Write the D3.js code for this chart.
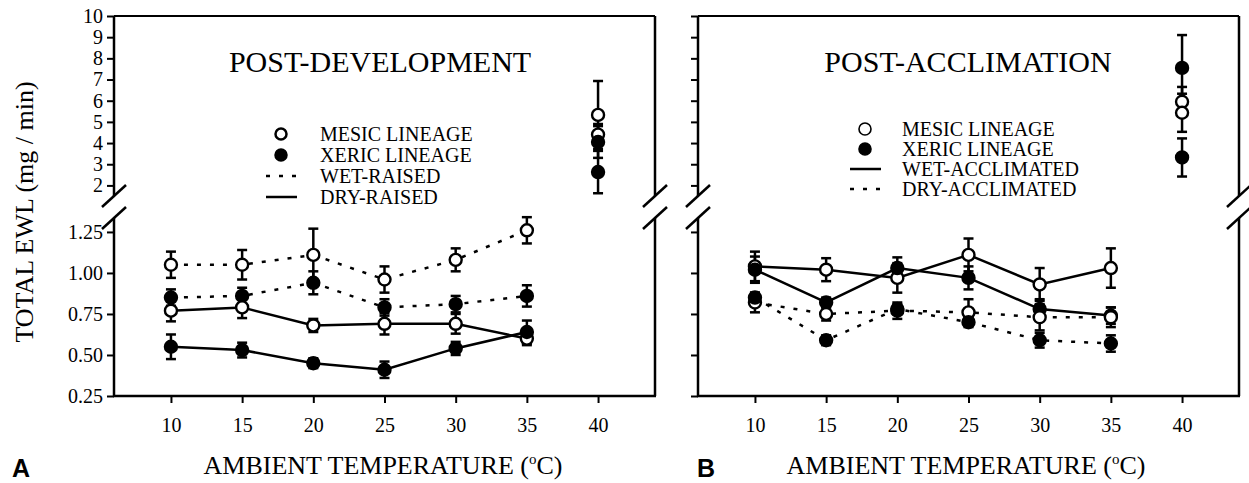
<!DOCTYPE html>
<html>
<head>
<meta charset="utf-8">
<script src="https://cdn.jsdelivr.net/npm/d3@7"></script>
<style>
  body { margin: 0; background: #fff; }
  text { font-family: "Liberation Serif", "Times New Roman", serif; fill: #000; }
</style>
</head>
<body>
<svg id="chart" width="1249" height="483"></svg>
<script>
// ---- data ----
const temps = [10, 15, 20, 25, 30, 35];
const tempTicks = [10, 15, 20, 25, 30, 35, 40];
const upperTicks = [2, 3, 4, 5, 6, 7, 8, 9, 10];
const lowerTicks = [0.25, 0.50, 0.75, 1.00, 1.25];

// A: post-development
const devMesicWet    = [1.05, 1.05, 1.11, 0.96, 1.08, 1.26];
const devMesicWetErr = [0.08, 0.09, 0.16, 0.08, 0.07, 0.08];
const devXericWet    = [0.85, 0.86, 0.94, 0.79, 0.81, 0.86];
const devXericWetErr = [0.05, 0.05, 0.07, 0.05, 0.05, 0.065];
const devMesicDry    = [0.77, 0.79, 0.68, 0.69, 0.69, 0.60];
const devMesicDryErr = [0.065, 0.065, 0.04, 0.065, 0.06, 0.04];
const devXericDry    = [0.55, 0.53, 0.45, 0.41, 0.54, 0.64];
const devXericDryErr = [0.075, 0.045, 0.03, 0.05, 0.04, 0.07];
const devHotMean     = [5.33, 4.40, 4.05, 2.63];
const devHotErr      = [1.60, 0.50, 0.75, 1.00];
const devHotOpen     = [true, true, false, false];

// B: post-acclimation
const accMesicWet    = [1.04, 1.02, 0.97, 1.11, 0.93, 1.03];
const accMesicWetErr = [0.09, 0.07, 0.09, 0.10, 0.10, 0.12];
const accXericWet    = [1.02, 0.82, 1.03, 0.97, 0.78, 0.74];
const accXericWetErr = [0.08, 0.03, 0.065, 0.07, 0.06, 0.05];
const accMesicDry    = [0.82, 0.75, 0.77, 0.76, 0.73, 0.73];
const accMesicDryErr = [0.06, 0.04, 0.05, 0.08, 0.08, 0.06];
const accXericDry    = [0.85, 0.59, 0.78, 0.70, 0.59, 0.57];
const accXericDryErr = [0.03, 0.03, 0.03, 0.03, 0.045, 0.05];
const accHotMean     = [5.95, 5.43, 7.55, 3.32];
const accHotErr      = [0.70, 0.90, 1.55, 0.90];
const accHotOpen     = [true, true, false, false];

const devLegend = ["MESIC LINEAGE", "XERIC LINEAGE", "WET-RAISED", "DRY-RAISED"];
const accLegend = ["MESIC LINEAGE", "XERIC LINEAGE", "WET-ACCLIMATED", "DRY-ACCLIMATED"];

// ---- layout ----
const svg = d3.select("#chart");
const plotTop = 16, breakTop = 196, breakBot = 218, plotBottom = 396;
const yTop = d3.scaleLinear([1.5, 10], [breakTop, plotTop]);
const yBot = d3.scaleLinear([0.25, 1.335], [plotBottom, breakBot]);
const dots = "4,9";
const sw = 2.5;

const panels = [
  {
    x0: 114, x1: 655, title: "POST-DEVELOPMENT", titleX: 380, labels: true,
    letter: "A", letterX: 12, xTitleX: 383,
    series: [
      { mean: devMesicWet, err: devMesicWetErr, open: true,  dotted: true },
      { mean: devXericWet, err: devXericWetErr, open: false, dotted: true },
      { mean: devMesicDry, err: devMesicDryErr, open: true,  dotted: false },
      { mean: devXericDry, err: devXericDryErr, open: false, dotted: false }
    ],
    hot: { mean: devHotMean, err: devHotErr, open: devHotOpen },
    legend: { names: devLegend, kinds: ["open", "filled", "dotted", "solid"],
              symX: 281, textX: 320, rows: [134, 155, 176, 197], r: 5.5, csw: 2.5 }
  },
  {
    x0: 698, x1: 1239, title: "POST-ACCLIMATION", titleX: 968, labels: false,
    letter: "B", letterX: 697, xTitleX: 966,
    series: [
      { mean: accMesicWet, err: accMesicWetErr, open: true,  dotted: false },
      { mean: accXericWet, err: accXericWetErr, open: false, dotted: false },
      { mean: accMesicDry, err: accMesicDryErr, open: true,  dotted: true },
      { mean: accXericDry, err: accXericDryErr, open: false, dotted: true }
    ],
    hot: { mean: accHotMean, err: accHotErr, open: accHotOpen },
    legend: { names: accLegend, kinds: ["open", "filled", "solid", "dotted"],
              symX: 865, textX: 902, rows: [129, 149, 169, 189], r: 6, csw: 1.6 }
  }
];

function errBar(g, cx, lo, hi) {
  g.append("line").attr("x1", cx).attr("x2", cx).attr("y1", lo).attr("y2", hi)
    .attr("stroke", "#000").attr("stroke-width", sw);
  [lo, hi].forEach(v => {
    g.append("line").attr("x1", cx - 5).attr("x2", cx + 5).attr("y1", v).attr("y2", v)
      .attr("stroke", "#000").attr("stroke-width", sw);
  });
}

function dot(g, cx, cy, open, r = 6, w = 2.4) {
  g.append("circle").attr("cx", cx).attr("cy", cy).attr("r", r)
    .attr("fill", open ? "#fff" : "#000")
    .attr("stroke", "#000").attr("stroke-width", w);
}

panels.forEach(p => {
  const x = d3.scaleLinear([6, 44], [p.x0, p.x1]);
  const g = svg.append("g");

  // frame: left axis, right border, top, bottom
  [p.x0, p.x1].forEach(ax => {
    g.append("line").attr("x1", ax).attr("x2", ax).attr("y1", plotTop).attr("y2", breakTop)
      .attr("stroke", "#000").attr("stroke-width", sw);
    g.append("line").attr("x1", ax).attr("x2", ax).attr("y1", breakBot).attr("y2", plotBottom)
      .attr("stroke", "#000").attr("stroke-width", sw);
    // break marks
    [breakTop, breakBot].forEach(by => {
      g.append("line").attr("x1", ax - 12).attr("y1", by + 11)
        .attr("x2", ax + 12).attr("y2", by - 11)
        .attr("stroke", "#000").attr("stroke-width", sw);
    });
  });
  g.append("line").attr("x1", p.x0).attr("x2", p.x1).attr("y1", plotTop).attr("y2", plotTop)
    .attr("stroke", "#000").attr("stroke-width", 2);
  g.append("line").attr("x1", p.x0 - 1).attr("x2", p.x1 + 1).attr("y1", plotBottom).attr("y2", plotBottom)
    .attr("stroke", "#000").attr("stroke-width", sw);

  // y axes (upper + lower segments)
  const upAxis = d3.axisLeft(yTop).tickValues(upperTicks).tickSize(7).tickPadding(4)
    .tickFormat(p.labels ? d3.format("d") : "");
  const loAxis = d3.axisLeft(yBot).tickValues(lowerTicks).tickSize(7).tickPadding(4)
    .tickFormat(p.labels ? d3.format(".2f") : "");
  [upAxis, loAxis].forEach(a => {
    const ag = g.append("g").attr("transform", `translate(${p.x0},0)`).call(a);
    ag.select(".domain").remove();
    ag.selectAll(".tick line").attr("stroke", "#000").attr("stroke-width", 2);
    ag.selectAll(".tick text").style("font-size", "20px")
      .style("font-family", "'Liberation Serif', serif");
  });

  // x axis
  const xg = g.append("g").attr("transform", `translate(0,${plotBottom})`)
    .call(d3.axisBottom(x).tickValues(tempTicks).tickSize(7).tickPadding(15));
  xg.select(".domain").remove();
  xg.selectAll(".tick line").attr("stroke", "#000").attr("stroke-width", 2);
  xg.selectAll(".tick text").style("font-size", "20px")
    .style("font-family", "'Liberation Serif', serif");

  // lines
  const line = d3.line().x((d, i) => x(temps[i])).y(d => yBot(d));
  p.series.forEach(s => {
    g.append("path").datum(s.mean).attr("d", line)
      .attr("fill", "none").attr("stroke", "#000").attr("stroke-width", sw)
      .attr("stroke-dasharray", s.dotted ? dots : null);
  });
  // error bars then markers
  p.series.forEach(s => {
    s.mean.forEach((m, i) => errBar(g, x(temps[i]), yBot(m - s.err[i]), yBot(m + s.err[i])));
  });
  p.hot.mean.forEach((m, i) => errBar(g, x(40), yTop(m - p.hot.err[i]), yTop(m + p.hot.err[i])));
  p.series.forEach(s => {
    s.mean.forEach((m, i) => dot(g, x(temps[i]), yBot(m), s.open));
  });
  p.hot.mean.forEach((m, i) => dot(g, x(40), yTop(m), p.hot.open[i]));

  // title
  g.append("text").attr("x", p.titleX).attr("y", 72).attr("text-anchor", "middle")
    .style("font-size", "30px").text(p.title);

  // legend
  const L = p.legend;
  L.names.forEach((name, i) => {
    const cy = L.rows[i];
    const k = L.kinds[i];
    if (k === "open" || k === "filled") {
      dot(g, L.symX, cy, k === "open", L.r, L.csw);
    } else {
      g.append("line").attr("x1", L.symX - 15).attr("x2", L.symX + 16)
        .attr("y1", cy).attr("y2", cy)
        .attr("stroke", "#000").attr("stroke-width", sw)
        .attr("stroke-dasharray", k === "dotted" ? "4,9" : null);
    }
    g.append("text").attr("x", L.textX).attr("y", cy + 7)
      .style("font-size", "20px").text(name);
  });

  // x title
  const xt = g.append("text").attr("x", p.xTitleX).attr("y", 474).attr("text-anchor", "middle")
    .style("font-size", "26px");
  xt.append("tspan").text("AMBIENT TEMPERATURE (");
  xt.append("tspan").attr("dy", -10).style("font-size", "15px").text("o");
  xt.append("tspan").attr("dy", 10).text("C)");

  // panel letter
  g.append("text").attr("x", p.letterX).attr("y", 477)
    .style("font-family", "'Liberation Sans', Arial, sans-serif")
    .style("font-weight", "bold").style("font-size", "25px").text(p.letter);
});

// y title
svg.append("text")
  .attr("transform", "translate(33,212) rotate(-90)")
  .attr("text-anchor", "middle")
  .style("font-size", "26px")
  .text("TOTAL EWL (mg / min)");
</script>
</body>
</html>
